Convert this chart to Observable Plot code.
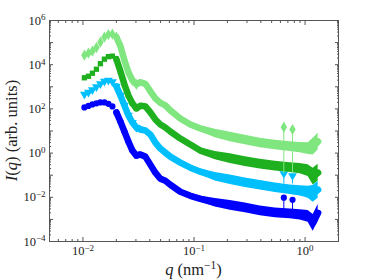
<!DOCTYPE html>
<html><head><meta charset="utf-8">
<script src="https://cdn.jsdelivr.net/npm/d3@7"></script>
<script src="https://cdn.jsdelivr.net/npm/@observablehq/plot@0.6"></script>
<style>html,body{margin:0;padding:0;background:#fff}svg{display:block}</style>
</head><body><div id="chart"></div>
<script>
// scattering vector q (nm^-1)
const q = [0.01031,0.01121,0.01217,0.01323,0.01437,0.01561,0.01696,0.01842,0.02001,0.02174,0.02362,0.02566,0.02788,0.03028,0.03290,0.03649,0.04046,0.04487,0.04977,0.05519,0.06121,0.07528,0.09262,0.1139,0.1554,0.2121,0.2893,0.3948,0.5386,0.7348,0.9036,1.066,1.183,1.312];
// intensities I(q) (arb. units), one array per sample
const lightgreenI = [2.70e4,3.33e4,4.11e4,5.93e4,1.05e5,1.78e5,2.31e5,2.43e5,1.78e5,6.93e4,1.60e4,4.56e3,1.97e3,1.30e3,1.60e3,1.37e3,624,300,187,144,85.5,37.0,19.7,13.0,7.69,5.33,3.90,2.85,2.31,1.97,1.78,1.60,1.97,3.33];
const greenI = [2.56e3,3.00e3,4.11e3,6.24e3,1.11e4,1.78e4,2.31e4,2.43e4,1.78e4,5.07e3,1.30e3,411,178,105,137,130,69.3,33.3,19.7,14.4,9.48,4.56,2.43,1.30,0.769,0.562,0.411,0.316,0.256,0.219,0.197,0.160,0.0855,0.130];
const cyanI = [456,562,731,1.00e3,1.37e3,1.78e3,1.97e3,1.69e3,1.05e3,411,144,50.7,24.3,14.4,11.7,10.5,6.93,3.00,1.60,1.05,0.693,0.370,0.219,0.144,0.0855,0.0624,0.0456,0.0351,0.0270,0.0219,0.0197,0.0169,0.0144,0.0219];
const blueI = [117,137,160,178,197,197,169,130,69.3,27.0,9.48,3.33,1.30,0.769,0.855,0.693,0.300,0.130,0.0693,0.0562,0.0370,0.0178,0.0117,0.00855,0.00562,0.00433,0.00333,0.00243,0.00197,0.00178,0.00160,0.00137,0.000693,0.00197];
// multiplicative scatter of the data around each curve (noise band)
const spread = [1,1,1,1,1,1,1,1,1,1,1,1.3,1.35,1.35,1.35,1.35,1.35,1.35,1.35,1.35,1.35,1.35,1.35,1.35,1.55,1.65,1.65,1.65,1.65,1.65,1.7,1.85,2.4,2.4];
// isolated points with error bars at high q
const errQ = [0.644, 0.771];
const lightgreenErr = [14.9, 11.7], lightgreenErrLo = [0.117, 0.117];
const cyanErr = [0.117, 0.095], cyanErrLo = [0.04, 0.04];
const blueErr = [0.0096, 0.0077], blueErrLo = [0.0021, 0.0021];
const xMajor = [0.01, 0.1, 1];
const yLabels = [1e-4, 1e-2, 1, 1e2, 1e4, 1e6];

const ns = "http://www.w3.org/2000/svg";
const FONT = "'Liberation Serif', 'Times New Roman', serif";
const triDown = {draw(ctx, size) {
  const s3 = Math.sqrt(3), y = -Math.sqrt(size / (s3 * 3));
  ctx.moveTo(0, -2 * y); ctx.lineTo(-s3 * y, y); ctx.lineTo(s3 * y, y); ctx.closePath();
}};
const series = [
  {name: "blue", I: blueI, color: "#0000ff", symbol: "circle", r: 3.1, err: blueErr, lo: blueErrLo},
  {name: "cyan", I: cyanI, color: "#00bfff", symbol: triDown, r: 3.3, err: cyanErr, lo: cyanErrLo},
  {name: "green", I: greenI, color: "#1fb01f", symbol: "square", r: 3.0, err: null, lo: null},
  {name: "lightgreen", I: lightgreenI, color: "#80e680", symbol: "diamond", r: 3.4, err: lightgreenErr, lo: lightgreenErrLo}
];
const xMinor = [], yMinor = [], yMajor = [];
for (let e = -3; e <= 0; e++) for (let k = 2; k <= 9; k++) { const v = k * 10 ** e; if (v >= 0.005 && v <= 2) xMinor.push(v); }
for (let e = -4; e <= 5; e++) { yMajor.push(10 ** e); for (let k = 2; k <= 9; k++) yMinor.push(k * 10 ** e); }
yMajor.push(1e6);
const fmt = d => { const e = Math.round(Math.log10(d)); return "10^" + (e < 0 ? "\u2212" + (-e) : e); };

const marks = [];
for (const s of series) {
  const rows = q.map((v, i) => ({q: v, I: s.I[i], lo: s.I[i] / spread[i], hi: s.I[i] * spread[i], i}));
  const band = rows.filter(d => d.i >= 10);
  const path = rows.filter(d => d.i >= 8);
  marks.push(Plot.areaY(band, {x: "q", y1: "lo", y2: "hi", fill: s.color}));
  marks.push(Plot.line(path, {x: "q", y: "I", stroke: s.color, strokeWidth: 6.5, strokeLinejoin: "round", strokeLinecap: "round"}));
  marks.push(Plot.dot(rows.filter(d => d.i <= 13), {x: "q", y: "I", symbol: s.symbol, r: s.r, fill: s.color, stroke: "none"}));
  if (s.err) {
    const er = errQ.map((v, i) => ({q: v, I: s.err[i], lo: s.lo[i]}));
    marks.push(Plot.ruleX(er, {x: "q", y1: "lo", y2: "I", stroke: s.color, strokeWidth: 1}));
    marks.push(Plot.dot(er, {x: "q", y: "I", symbol: s.symbol, r: s.r, fill: s.color, stroke: "none"}));
  }
}
const tc = "#555";
marks.push(
  Plot.frame({stroke: tc, strokeWidth: 1}),
  Plot.axisX({anchor: "bottom", ticks: xMajor, tickSize: -4, tickFormat: () => "", label: null, stroke: tc}),
  Plot.axisX({anchor: "bottom", ticks: xMinor, tickSize: -2, tickFormat: () => "", label: null, stroke: tc}),
  Plot.axisX({anchor: "top", ticks: xMajor, tickSize: -4, tickFormat: () => "", label: null, stroke: tc}),
  Plot.axisX({anchor: "top", ticks: xMinor, tickSize: -2, tickFormat: () => "", label: null, stroke: tc}),
  Plot.axisY({anchor: "left", ticks: yMajor, tickSize: -4, tickFormat: () => "", label: null, stroke: tc}),
  Plot.axisY({anchor: "left", ticks: yMinor, tickSize: -2, tickFormat: () => "", label: null, stroke: tc}),
  Plot.axisY({anchor: "right", ticks: yMajor, tickSize: -4, tickFormat: () => "", label: null, stroke: tc}),
  Plot.axisY({anchor: "right", ticks: yMinor, tickSize: -2, tickFormat: () => "", label: null, stroke: tc}),
  Plot.axisX({anchor: "bottom", ticks: xMajor, tickSize: 0, tickPadding: 5, tickFormat: fmt, label: null, fill: "#222", fontSize: 12.5}),
  Plot.axisY({anchor: "left", ticks: yLabels, tickSize: 0, tickPadding: 4, tickFormat: fmt, label: null, fill: "#222", fontSize: 12.5})
);

const chart = Plot.plot({
  width: 374, height: 280,
  marginLeft: 49, marginRight: 36, marginTop: 20, marginBottom: 39,
  style: {fontFamily: FONT, fontSize: "12.5px", background: "#fff", color: "#222"},
  x: {type: "log", domain: [0.005, 2]},
  y: {type: "log", domain: [1e-4, 1e6]},
  marks
});
// superscript exponents in tick labels
chart.querySelectorAll("text").forEach(t => {
  const m = /^10\^(.+)$/.exec(t.textContent);
  if (!m) return;
  t.textContent = "";
  t.setAttribute("font-family", FONT);
  const a = document.createElementNS(ns, "tspan"); a.textContent = "10"; t.appendChild(a);
  const b = document.createElementNS(ns, "tspan"); b.setAttribute("dy", "-0.45em"); b.setAttribute("font-size", "72%"); b.textContent = m[1]; t.appendChild(b);
});
function addText(parent, attrs, parts) {
  const t = document.createElementNS(ns, "text");
  for (const k in attrs) t.setAttribute(k, attrs[k]);
  for (const p of parts) {
    const s = document.createElementNS(ns, "tspan");
    for (const k in (p.a || {})) s.setAttribute(k, p.a[k]);
    s.textContent = p.t; t.appendChild(s);
  }
  parent.appendChild(t);
}
addText(chart, {x: 193.5, y: 275, "text-anchor": "middle", "font-size": 16.5, fill: "#222", "font-family": FONT},
  [{t: "q", a: {"font-style": "italic"}}, {t: " (nm"}, {t: "\u22121", a: {dy: -6, "font-size": 11.5}}, {t: ")", a: {dy: 6}}]);
addText(chart, {transform: "translate(17,130.5) rotate(-90)", "text-anchor": "middle", "font-size": 16.5, fill: "#222", "font-family": FONT},
  [{t: "I", a: {"font-style": "italic"}}, {t: "("}, {t: "q", a: {"font-style": "italic"}}, {t: ") (arb. units)"}]);
document.getElementById("chart").appendChild(chart);
</script>
</body></html>
